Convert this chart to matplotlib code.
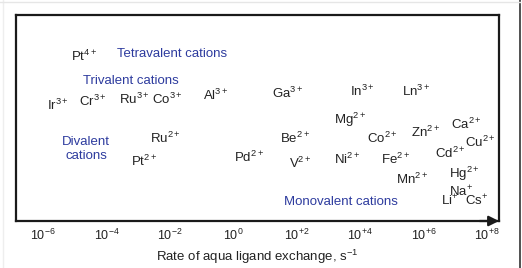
import matplotlib
matplotlib.use("Agg")
import matplotlib.pyplot as plt
from matplotlib.lines import Line2D

plt.rcParams['font.family'] = ['Liberation Sans', 'DejaVu Sans']
plt.rcParams['mathtext.fontset'] = 'custom'
plt.rcParams['mathtext.rm'] = 'Liberation Sans'
plt.rcParams['mathtext.it'] = 'Liberation Sans'
plt.rcParams['mathtext.bf'] = 'Liberation Sans:bold'

# ions: log10(rate of water exchange), vertical level (arbitrary 0..1)
ions = ['Pt$^{4+}$', 'Ir$^{3+}$', 'Cr$^{3+}$', 'Ru$^{3+}$', 'Co$^{3+}$', 'Al$^{3+}$',
        'Ga$^{3+}$', 'In$^{3+}$', 'Ln$^{3+}$', 'Mg$^{2+}$', 'Ca$^{2+}$', 'Ru$^{2+}$',
        'Pt$^{2+}$', 'Pd$^{2+}$', 'Be$^{2+}$', 'V$^{2+}$', 'Co$^{2+}$', 'Zn$^{2+}$',
        'Ni$^{2+}$', 'Fe$^{2+}$', 'Cd$^{2+}$', 'Cu$^{2+}$', 'Mn$^{2+}$', 'Hg$^{2+}$',
        'Na$^{+}$', 'Li$^{+}$', 'Cs$^{+}$']
log_rate = [-4.71, -5.53, -4.42, -3.13, -2.09, -0.54,
            1.73, 4.06, 5.76, 3.68, 7.34, -2.15,
            -2.81, 0.50, 1.95, 2.10, 4.69, 6.08,
            3.59, 5.13, 6.83, 7.78, 5.64, 7.28,
            7.18, 6.83, 7.69]
level = [0.80, 0.56, 0.58, 0.59, 0.59, 0.61,
         0.62, 0.63, 0.63, 0.49, 0.47, 0.40,
         0.29, 0.31, 0.40, 0.28, 0.40, 0.43,
         0.30, 0.30, 0.33, 0.38, 0.20, 0.23,
         0.14, 0.10, 0.10]

groups = ['Tetravalent cations', 'Trivalent cations', 'Divalent\ncations', 'Monovalent cations']
group_x = [-1.93, -3.22, -4.64, 3.40]
group_y = [0.81, 0.68, 0.35, 0.09]

tick_vals = [-6, -4, -2, 0, 2, 4, 6, 8]
tick_labels = ['10$^{-6}$', '10$^{-4}$', '10$^{-2}$', '10$^{0}$',
               '10$^{+2}$', '10$^{+4}$', '10$^{+6}$', '10$^{+8}$']

fig = plt.figure(figsize=(5.22, 2.68), dpi=100)
ax = fig.add_axes([16 / 522, 47 / 268, 483 / 522, 206 / 268])
ax.set_xlim(-6.85, 8.38)
ax.set_ylim(0, 1)

for name, xv, yv in zip(ions, log_rate, level):
    ax.text(xv, yv, name, ha='center', va='center', fontsize=9.5, color='#222222')

for name, xv, yv in zip(groups, group_x, group_y):
    ax.text(xv, yv, name, ha='center', va='center', fontsize=9.5, color='#2d3b9e',
            linespacing=1.25)

ax.set_xticks(tick_vals)
ax.set_xticklabels(tick_labels, fontsize=9)
ax.set_yticks([])
ax.tick_params(axis='x', length=0, pad=5, colors='#222222')
ax.set_xlabel('Rate of aqua ligand exchange, s$^{-1}$', fontsize=9.5, labelpad=3,
              color='#222222')

for s in ax.spines.values():
    s.set_linewidth(1.6)
    s.set_color('#1a1a1a')

# arrowhead at the right end of the bottom axis
ax.annotate('', xy=(1.0, 0), xytext=(0.96, 0), xycoords='axes fraction',
            arrowprops=dict(arrowstyle='-|>', color='#1a1a1a', lw=1.6,
                            mutation_scale=15, shrinkA=0, shrinkB=0),
            annotation_clip=False)

# outer frame of the image
fig.add_artist(Line2D([520 / 522, 520 / 522], [0, 1], color='#333333', lw=1.2))
fig.add_artist(Line2D([3 / 522, 3 / 522], [0, 1], color='#eeeeee', lw=1))
fig.add_artist(Line2D([0, 520 / 522], [266 / 268, 266 / 268], color='#e6e6e6', lw=1))

fig.savefig('out.png', dpi=100)
